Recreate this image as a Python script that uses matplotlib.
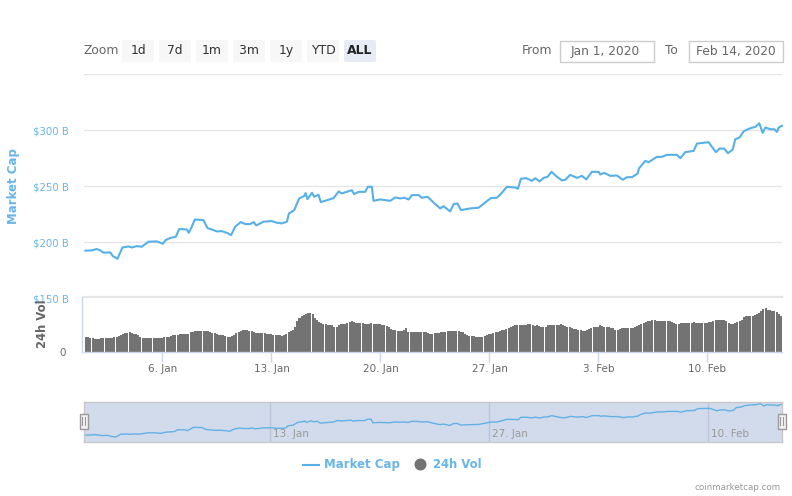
import matplotlib
matplotlib.use("Agg")
import matplotlib.pyplot as plt
from matplotlib.patches import FancyBboxPatch, Rectangle, Circle
from matplotlib.lines import Line2D
import numpy as np

plt.rcParams['font.family'] = ['DejaVu Sans']

# ---- data (days counted from 0 Jan 2020; values in billions of USD) ----
mcap_days = [1.05,1.46,1.78,2.0,2.21,2.64,2.81,3.11,3.24,3.43,3.82,4.03,4.35,4.67,5.1,5.64,6.02,6.21,6.49,6.86,
 7.07,7.56,7.69,7.88,8.08,8.63,8.89,9.28,9.49,9.81,10.13,10.41,10.67,11.03,11.31,11.63,11.85,12.02,12.49,13.02,
 13.34,13.67,13.99,14.12,14.46,14.78,15.1,15.19,15.31,15.61,15.74,16.02,16.17,16.45,16.99,17.31,17.52,18.16,18.31,18.59,
 19.02,19.19,19.45,19.55,19.98,20.63,20.95,21.27,21.53,21.81,22.02,22.45,22.66,23.03,23.52,23.84,24.05,24.48,24.70,24.95,
 25.17,25.77,26.30,26.79,27.09,27.48,27.80,28.12,28.66,28.83,29.02,29.36,29.73,29.94,30.22,30.48,30.73,30.99,31.29,31.66,
 31.87,32.19,32.62,32.94,33.22,33.58,34.01,34.12,34.37,34.76,35.19,35.57,35.83,36.15,36.52,36.60,37.01,37.22,37.76,38.08,
 38.40,39.04,39.26,39.58,40.11,40.33,41.08,41.29,41.55,41.78,42.08,42.32,42.62,42.79,43.07,43.33,43.76,44.08,44.33,44.55,
 44.72,45.04,45.29,45.47,45.57,45.79]
mcap_values = [192.3,192.6,193.8,192.6,190.5,190.8,187.5,185.1,189.3,195.2,196.1,195.2,196.4,195.8,200.3,200.6,198.5,201.8,203.6,204.8,
 211.6,211.3,208.3,213.7,220.2,219.6,212.5,210.7,209.5,209.8,208.3,206.3,213.7,217.9,216.1,216.1,217.9,214.9,218.2,218.8,
 217.3,216.7,218.2,225.6,228.6,239,241.1,243.8,238.4,244.1,240.5,242.3,235.7,236.9,239.3,245.2,243.5,246.4,242.9,244.9,
 244.9,249.4,249.4,236.9,238.1,236.9,239.9,239,239.6,238.1,242,242,239.6,240.5,233.9,230.1,232.1,227.4,233.9,234.5,
 228.6,230.1,230.7,236,239.3,239.6,244.1,249.4,248.8,247.6,256.6,257.1,254.8,257.1,254.2,257.4,258.3,262.8,258.9,255.1,
 255.7,260.1,257.4,259.2,256,262.8,262.8,260.4,261.9,259.2,259.5,255.7,258,258,261.3,265.8,272.6,271.4,276.2,276.2,
 278,278,275,280.4,281.5,288.1,289.3,285.1,280.4,283.6,283.6,279.5,282.7,292,293.5,299.1,301.8,303,306.2,297.6,
 302.4,300.9,300.9,298.5,302.4,303.9]
vol_values = [41,40,38,37,36, 36,36,37, 38,38,37, 37,38,40, 40,44, 47,50,51,52,53, 52,50,48,45,41, 39,37,37, 37,37,38,38,
 39,39,39, 40,40,42, 44,45,46, 47,49,50, 50,49,50, 53,55,56, 57,57,57,58,58, 56,54,52, 51,49,47, 45,45,44,42,42,
 44,47, 52,55, 56,59,59, 60,58, 56,53, 52,52,51,52, 51,50,49,48, 47,47,46,45,44, 46,50,54, 57,61,68, 85,92,98,100,
 103,105,106, 103,92, 87,82,79, 77,75,74,74,72, 69,68, 72,75,76, 77,80,82,83, 81,80,79,79, 78,77,77,76,78, 76,77,
 75,75,74,72, 70,67, 62,60,60,58,57,
 56,60,64,55,54,54,53,53, 54,54,54,53, 51,49, 50,51,52,52,54, 54,55,56,56,57,57, 57,56,54,53, 50,47, 44,43,43,42,42,42,42,
 44,46,49, 50,52,53,55,57, 59,61,63, 66,69,71,72, 73,74,74,74,74,75, 75,73,71,72,70,69, 68,67,72, 73,73,73,74,74,75,
 72,70,69, 67,66,63, 62,60,59,58,57, 60,63,66, 67,67,68,73, 71,69,67,67, 66,64,60, 61,63,64,64,64,64,64,65, 68,71,72,
 76,79,82, 84,85,86,86,85, 85,85,84,85,85,85, 82,78, 77,76,78,79,80, 80,80,80,81,80,79,79,80,80, 80,81,81,83,86,87,
 87,87,87,84, 80,77, 76,78,82, 84,87,95, 97,97,98, 99,100,102,105, 110,117, 118,115,114,112,111, 108,104,97]
vol_first_day = 1.09
vol_last_day = 45.72
tick_days = [6, 13, 20, 27, 34, 41]
tick_labels = ['6. Jan', '13. Jan', '20. Jan', '27. Jan', '3. Feb', '10. Feb']
nav_tick_days = [13, 27, 41]
nav_tick_labels = ['13. Jan', '27. Jan', '10. Feb']
mcap_ticks = [150, 200, 250, 300, 350]
mcap_tick_labels = ['$150 B', '$200 B', '$250 B', '$300 B', '']
zoom_buttons = ['1d', '7d', '1m', '3m', '1y', 'YTD', 'ALL']

BLUE = '#57b0e8'
TXTBLUE = '#68b5ea'
GRAY = '#737373'
W, H = 792, 496
XLIM = (0.96, 45.79)
NAV_XLIM = (1.056, 45.71)

fig = plt.figure(figsize=(W/100, H/100), dpi=100, facecolor='white')

def axpx(l, t, r, b, **kw):
    return fig.add_axes([l/W, 1-b/H, (r-l)/W, (b-t)/H], **kw)

# overlay in pixel coordinates for the page furniture
bg = axpx(0, 0, W, H)
bg.set_xlim(0, W); bg.set_ylim(H, 0); bg.axis('off')
bg.set_zorder(5)

# main panel
ax = axpx(84, 74.3, 782, 298)
ax.patch.set_alpha(0)
ax.plot(mcap_days, mcap_values, color=BLUE, lw=1.5, solid_joinstyle='round', clip_on=False)
ax.set_xlim(*XLIM); ax.set_ylim(150, 350)
ax.set_yticks(mcap_ticks); ax.set_yticklabels(mcap_tick_labels)
ax.tick_params(axis='y', length=0, pad=11, labelcolor=TXTBLUE, labelsize=7.3)
ax.set_xticks([])
ax.grid(axis='y', color='#e6e6e6', lw=1)
ax.set_axisbelow(True)
for s in ax.spines.values():
    s.set_visible(False)

# volume panel
vx = axpx(84, 296.7, 782, 352)
vx.patch.set_alpha(0)
vol_x = np.linspace(vol_first_day, vol_last_day, len(vol_values))
vx.bar(vol_x, vol_values, width=(vol_x[1]-vol_x[0])*0.92, color=GRAY, lw=0)
vx.set_xlim(*XLIM); vx.set_ylim(0, 150)
vx.set_yticks([0]); vx.set_yticklabels(['0'])
vx.tick_params(axis='y', length=0, pad=13, labelcolor='#666666', labelsize=7.5)
vx.set_xticks(tick_days); vx.set_xticklabels(tick_labels)
vx.tick_params(axis='x', length=7, width=1, color='#ccd6eb', pad=1.5, labelcolor='#666666', labelsize=7.5)
for k in ('top', 'right', 'left'):
    vx.spines[k].set_visible(False)
vx.spines['bottom'].set_color('#ccd6eb'); vx.spines['bottom'].set_linewidth(1)

bg.add_line(Line2D([84, 782], [297, 297], color='#e6e6e6', lw=1.6))
bg.add_line(Line2D([81.5, 81.5], [297, 352], color='#ccd6eb', lw=1))

# navigator
nx = axpx(83.5, 401.5, 782, 441.5)
nx.set_facecolor('#d2dbec')
nx.plot(mcap_days, mcap_values, color='#62b1e6', lw=1)
nx.set_xlim(*NAV_XLIM); nx.set_ylim(169, 314)
nx.set_yticks([]); nx.set_xticks(nav_tick_days); nx.set_xticklabels([])
nx.tick_params(axis='x', length=0)
nx.grid(axis='x', color='#bcc6d8', lw=1)
nx.set_axisbelow(True)
for s in nx.spines.values():
    s.set_color('#c8c8c8'); s.set_linewidth(1)
for d, lab in zip(nav_tick_days, nav_tick_labels):
    nx.annotate(lab, (d, 0), xycoords=('data', 'axes fraction'), xytext=(2, 2),
                textcoords='offset points', color='#999999', fontsize=7.5, va='bottom', ha='left')

for hx in (83.5, 781.5):
    bg.add_patch(Rectangle((hx-4, 413.5), 8, 15, fc='#f2f2f2', ec='#999999', lw=1, zorder=9))
    for dx in (-1.2, 1.2):
        bg.add_line(Line2D([hx+dx, hx+dx], [417, 425], color='#999999', lw=0.8, zorder=10))

def t(x, y, s, **kw):
    kw.setdefault('fontsize', 9)
    kw.setdefault('va', 'center')
    bg.text(x, y, s, **kw)

# range selector
t(84, 51, 'Zoom', color='#666666', fontsize=8.9)
for i, lab in enumerate(zoom_buttons):
    x0 = 122 + 37*i
    act = lab == 'ALL'
    bg.add_patch(FancyBboxPatch((x0+1, 41), 30, 20, boxstyle='round,pad=1,rounding_size=2',
                                fc='#e6ebf5' if act else '#f7f7f7', ec='none'))
    t(x0+16, 50.5, lab, ha='center', color='#222222' if act else '#333333',
      fontweight='bold' if act else 'normal', fontsize=8.9)
t(522, 50.5, 'From', color='#666666', fontsize=8.8)
bg.add_patch(Rectangle((559.5, 40.5), 94, 21, fc='white', ec='#cccccc', lw=1))
t(604.7, 51, 'Jan 1, 2020', ha='center', color='#666666', fontsize=8.8)
t(665, 50.5, 'To', color='#666666', fontsize=8.8)
bg.add_patch(Rectangle((688.5, 40.5), 94, 21, fc='white', ec='#cccccc', lw=1))
t(735.5, 51, 'Feb 14, 2020', ha='center', color='#666666', fontsize=8.8)

# axis titles
t(14, 186, 'Market Cap', rotation=90, ha='center', color=TXTBLUE, fontsize=8.5, fontweight='bold')
t(43, 324, '24h Vol', rotation=90, ha='center', color='#666666', fontsize=8.4, fontweight='bold')

# legend
bg.add_line(Line2D([303, 319], [464.5, 464.5], color=BLUE, lw=1.5))
t(324, 464.5, 'Market Cap', color=TXTBLUE, fontsize=8.5, fontweight='bold')
bg.add_patch(Circle((420.5, 464.5), 6, fc=GRAY, ec='none'))
t(433, 464.5, '24h Vol', color=TXTBLUE, fontsize=8.4, fontweight='bold')

# credit
t(781, 488, 'coinmarketcap.com', ha='right', color='#999999', fontsize=6.3)

fig.savefig('out.png', dpi=100)
